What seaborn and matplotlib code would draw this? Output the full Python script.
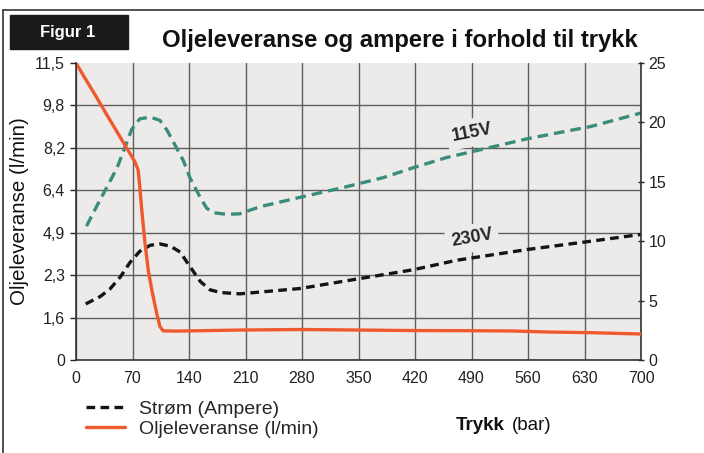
import matplotlib
matplotlib.use("Agg")
import numpy as np
import matplotlib.pyplot as plt
import seaborn as sns
from matplotlib.lines import Line2D
from matplotlib.patches import Rectangle

sns.set_style("white")
plt.rcParams["font.family"] = ["Liberation Sans", "DejaVu Sans"]

# Axis ticks
pressure_ticks = [0, 70, 140, 210, 280, 350, 420, 490, 560, 630, 700]
oil_ticks = [0, 1.6, 2.3, 4.9, 6.4, 8.2, 9.8, 11.5]
oil_tick_labels = ["0", "1,6", "2,3", "4,9", "6,4", "8,2", "9,8", "11,5"]
amp_ticks = [0, 5, 10, 15, 20, 25]

# Oil delivery (l/min) vs pressure (bar)
oil_x = [0, 10, 23, 35, 46, 55, 63, 73, 77, 79, 81.5, 85.5, 89.5, 94, 100,
         104, 108, 125, 203, 280, 350, 420, 490, 542, 584, 638, 700]
oil_y = [11.5, 10.95, 10.26, 9.61, 9.05, 8.59, 8.18, 7.61, 7.26, 6.55, 5.7,
         4.25, 2.61, 2.05, 1.67, 1.26, 1.1, 1.09, 1.13, 1.15, 1.13, 1.11,
         1.105, 1.094, 1.056, 1.03, 0.98]

# Current (A) at 115 V
amp115_x = [13, 26, 38, 51, 61, 69, 79, 92, 104, 113, 123, 133, 141, 154,
            162, 170, 187, 203, 228, 278, 330, 381, 419, 460, 501, 559, 638,
            700]
amp115_y = [11.27, 12.99, 14.52, 16.19, 17.97, 19.41, 20.3, 20.45, 20.17,
            19.32, 18.05, 16.78, 15.36, 13.67, 12.77, 12.4, 12.26, 12.31, 12.9,
            13.7, 14.5, 15.36, 16.21, 17.06, 17.7, 18.62, 19.66, 20.79]

# Current (A) at 230 V
amp230_x = [12, 30, 42, 55, 67, 79, 92, 104, 117, 129, 141, 154, 166, 179,
            203, 278, 352, 418, 472, 501, 559, 638, 700]
amp230_y = [4.72, 5.34, 5.97, 7.0, 8.22, 9.15, 9.66, 9.77, 9.58, 9.09, 7.88,
            6.61, 5.91, 5.68, 5.57, 6.02, 6.86, 7.6, 8.4, 8.7, 9.3, 10.0,
            10.57]

RED = "#ee5a2e"
TEAL = "#3a8c7d"
BLACK = "#141414"
BG = "#ecebea"
GRID = "#5e5e5e"

W, H = 704, 453
fig = plt.figure(figsize=(W / 100, H / 100), dpi=100)
ax = fig.add_axes([76 / W, 1 - 360 / H, 565 / W, 297 / H])
ax2 = ax.twinx()
ax.set_zorder(2)
ax2.set_zorder(1)
ax.patch.set_visible(False)
ax2.patch.set_visible(True)
ax2.patch.set_facecolor(BG)

# Left axis: evenly spaced tick positions carrying the stated flow values
pos = np.arange(len(oil_ticks), dtype=float)
ax.set_yscale("function",
              functions=(lambda v: np.interp(v, oil_ticks, pos),
                         lambda p: np.interp(p, pos, oil_ticks)))
ax.set_ylim(0, 11.5)
ax.set_xlim(0, 700)
ax2.set_ylim(0, 25)

# Grid on the lower axes so the curves sit above it
ax2.xaxis.set_visible(True)
ax2.set_xticks(pressure_ticks)
ax2.tick_params(axis="x", labelbottom=False, bottom=False, top=False)
ax2.set_yticks(np.arange(len(oil_ticks)) * 25 / (len(oil_ticks) - 1), minor=True)
ax2.tick_params(axis="y", which="minor", length=0)
ax2.grid(which="minor", axis="y", color=GRID, lw=1.0)
ax2.grid(which="major", axis="x", color=GRID, lw=1.0)
ax2.grid(which="major", axis="y", visible=False)

sns.lineplot(x=amp115_x, y=amp115_y, ax=ax2, color=TEAL, lw=2.4,
             linestyle=(0, (3.2, 1.8)), errorbar=None)
sns.lineplot(x=amp230_x, y=amp230_y, ax=ax2, color=BLACK, lw=2.4,
             linestyle=(0, (2.6, 1.6)), errorbar=None)
sns.lineplot(x=oil_x, y=oil_y, ax=ax, color=RED, lw=2.4, errorbar=None)

ax.set_xticks(pressure_ticks)
ax.set_xticklabels([str(t) for t in pressure_ticks])
ax.set_yticks(oil_ticks)
ax.set_yticklabels(oil_tick_labels)
ax.yaxis.set_minor_locator(matplotlib.ticker.NullLocator())
ax.tick_params(axis="both", labelsize=11.5, colors="#222222", length=4,
               width=1, direction="out", pad=4)
ax.set_xlabel("")
ax.set_ylabel("")

ax2.set_yticks(amp_ticks)
ax2.set_yticklabels([str(t) for t in amp_ticks])
ax2.tick_params(axis="y", which="major", labelsize=11.5, colors="#222222",
                length=5, width=1, direction="inout", pad=3)
ax2.set_ylabel("")

for a in (ax, ax2):
    a.spines["top"].set_visible(False)
ax.spines["right"].set_visible(False)
for s in ("left", "bottom"):
    ax.spines[s].set_color("#333333")
    ax.spines[s].set_linewidth(1.2)
    ax2.spines[s].set_visible(False)
ax2.spines["right"].set_color("#333333")
ax2.spines["right"].set_linewidth(1.2)

# Voltage annotations
ax2.text(491, 19.15, "115V", rotation=11, ha="center", va="center",
         fontsize=13, fontweight="bold", zorder=1.5,
         bbox=dict(boxstyle="square,pad=0.3", fc=BG, ec="none"))
ax2.text(491, 10.25, "230V", rotation=10, ha="center", va="center",
         fontsize=13, fontweight="bold", zorder=1.5,
         bbox=dict(boxstyle="square,pad=0.3", fc=BG, ec="none"))

# Page frame and header
fig.add_artist(Line2D([3 / W, 3 / W], [0, 1 - 10 / H], transform=fig.transFigure,
                      color="#333333", lw=1.2))
fig.add_artist(Line2D([3 / W, 1], [1 - 10 / H, 1 - 10 / H],
                      transform=fig.transFigure, color="#333333", lw=1.2))
fig.add_artist(Rectangle((10 / W, 1 - 49 / H), 118 / W, 34 / H,
                         transform=fig.transFigure, color="#1c191a"))
fig.text(68 / W, 1 - 32 / H, "Figur 1", color="white", fontsize=12,
         fontweight="bold", ha="center", va="center")
fig.text(400 / W, 1 - 40 / H, "Oljeleveranse og ampere i forhold til trykk",
         fontsize=17.2, fontweight="bold", ha="center", va="center",
         color="#111111")

fig.text(20 / W, 1 - 211 / H, "Oljeleveranse (l/min)", rotation=90,
         fontsize=14.8, ha="center", va="center", color="#111111")

fig.text(505 / W, 1 - 425 / H, "Trykk", fontsize=13.5, fontweight="bold",
         ha="right", va="center", color="#111111")
fig.text(512 / W, 1 - 425 / H, "(bar)", fontsize=13.5, ha="left",
         va="center", color="#111111")

handles = [ax2.lines[1], ax.lines[0]]
labels = ["Strøm (Ampere)", "Oljeleveranse (l/min)"]
fig.legend(handles, labels, loc="upper left",
           bbox_to_anchor=(86 / W, 1 - 400 / H), frameon=False, fontsize=14,
           handlelength=2.0, handletextpad=0.75, labelspacing=0.12,
           borderpad=0, borderaxespad=0)

fig.savefig("out.png", dpi=100, facecolor="white")
